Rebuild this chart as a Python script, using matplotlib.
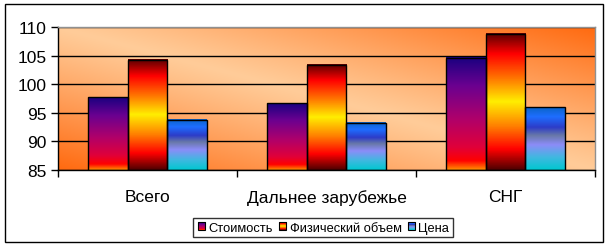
import numpy as np
import matplotlib
matplotlib.use('Agg')
import matplotlib.pyplot as plt
from matplotlib.colors import LinearSegmentedColormap, to_rgb
from matplotlib.patches import Rectangle
from matplotlib.legend_handler import HandlerBase
from matplotlib.image import BboxImage
from matplotlib.transforms import Bbox, TransformedBbox

plt.rcParams['font.family'] = ['Liberation Sans', 'DejaVu Sans']

categories = ['Всего', 'Дальнее зарубежье', 'СНГ']
series_names = ['Стоимость', 'Физический объем', 'Цена']
cost = [97.7, 96.7, 104.6]
volume = [104.3, 103.4, 108.8]
price = [93.8, 93.3, 96.0]
yticks = [85, 90, 95, 100, 105, 110]

# vertical gradients, top -> bottom
grad_stops = [
    [(0.0, '#1a0080'), (0.25, '#6a0090'), (0.55, '#b0006a'), (0.8, '#e0003a'),
     (0.92, '#ff0000'), (1.0, '#ff8c00')],
    [(0.0, '#5a0000'), (0.15, '#ff0000'), (0.32, '#ff7000'), (0.5, '#ffee00'),
     (0.68, '#ff8000'), (0.85, '#ff0000'), (1.0, '#500000')],
    [(0.0, '#0a64c8'), (0.15, '#1e6eff'), (0.32, '#2d3cc8'), (0.45, '#6878a8'),
     (0.6, '#8c8cf8'), (0.8, '#40b8e0'), (1.0, '#00c8d0')],
]


def make_grad(stops, n=200):
    cmap = LinearSegmentedColormap.from_list('g', stops)
    return cmap(np.linspace(0, 1, n))[:, None, :3]


grads = [make_grad(s) for s in grad_stops]


class GradHandler(HandlerBase):
    def __init__(self, grad):
        super().__init__()
        self.grad = grad

    def create_artists(self, legend, orig_handle, xdescent, ydescent,
                       width, height, fontsize, trans):
        s = height * 0.8
        x0 = -xdescent + (width - s) / 2
        y0 = -ydescent + (height - s) / 2
        bb = TransformedBbox(Bbox.from_bounds(x0, y0, s, s), trans)
        img = BboxImage(bb, interpolation='bilinear')
        img.set_data(self.grad)
        rect = Rectangle((x0, y0), s, s, facecolor='none', edgecolor='black',
                         lw=0.8, transform=trans)
        return [img, rect]


fig = plt.figure(figsize=(6.11, 2.51), dpi=100)
fig.patch.set_facecolor('white')
fig.patches.append(Rectangle((5 / 611, 8 / 251), 598 / 611, 238 / 251,
                             transform=fig.transFigure, fill=False,
                             edgecolor='black', lw=1.0))

ax = fig.add_axes([58 / 611, 80 / 251, 537 / 611, 143 / 251])

# background gradient
peach = np.array(to_rgb('#ffcc99'))
orange = np.array(to_rgb('#ff6a10'))
u, v = np.meshgrid(np.linspace(0, 1, 300), np.linspace(1, 0, 120))
t = np.clip(np.abs(u + v - 1), 0, 1) ** 1.1
bg = peach[None, None, :] * (1 - t[..., None]) + orange[None, None, :] * t[..., None]
ax.imshow(bg, extent=[-0.5, 2.5, 85, 110], aspect='auto', zorder=0,
          interpolation='bilinear')

x = np.arange(len(categories))
w = 0.223
for i, vals in enumerate([cost, volume, price]):
    bars = ax.bar(x + (i - 1) * w, np.array(vals) - 85, w, bottom=85,
                  facecolor='none', edgecolor='black', lw=1.0, zorder=3)
    for p in bars.patches:
        bx, by = p.get_x(), p.get_y()
        ax.imshow(grads[i], extent=[bx, bx + p.get_width(), by, by + p.get_height()],
                  aspect='auto', zorder=2, interpolation='bilinear')

ax.set_xlim(-0.5, 2.5)
ax.set_ylim(85, 110)
ax.set_yticks(yticks)
ax.set_yticklabels([str(y) for y in yticks], fontsize=12.5)
ax.yaxis.grid(True, color='black', lw=1.0)
ax.set_axisbelow(True)

ax.set_xticks([-0.5, 0.5, 1.5, 2.5])
ax.set_xticklabels([])
ax.set_xticks(x, minor=True)
ax.set_xticklabels(categories, minor=True, fontsize=12.5)
ax.tick_params(axis='x', which='minor', length=0, pad=14)
ax.tick_params(axis='x', which='major', direction='out', length=5, width=1)
ax.tick_params(axis='y', direction='out', length=5, width=1, pad=3)

for side in ['left', 'bottom']:
    ax.spines[side].set_color('black')
    ax.spines[side].set_linewidth(1.0)
for side in ['top', 'right']:
    ax.spines[side].set_color('#909090')
    ax.spines[side].set_linewidth(1.0)

handles = [Rectangle((0, 0), 1, 1) for _ in series_names]
hmap = {h: GradHandler(g) for h, g in zip(handles, grads)}
leg = fig.legend(handles, series_names, handler_map=hmap, loc='center',
                 bbox_to_anchor=(323 / 611, 22.5 / 251), ncol=3, fontsize=9.3,
                 frameon=True, fancybox=False, edgecolor='black',
                 handlelength=0.7, handleheight=0.7, handletextpad=0.2,
                 columnspacing=0.4, borderpad=0.3, borderaxespad=0)
leg.get_frame().set_linewidth(1.0)

fig.savefig('out.png', dpi=100)
